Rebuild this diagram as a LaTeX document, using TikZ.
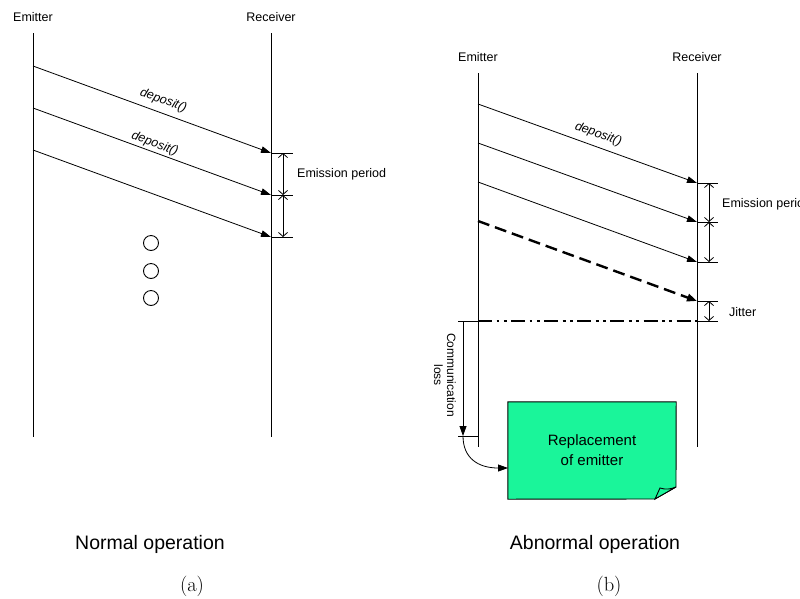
\documentclass[tikz,border=0pt]{standalone}
\usepackage{fontspec}
\newfontfamily\arialf{Liberation Sans}
\usetikzlibrary{arrows.meta}
\definecolor{boxgreen}{RGB}{26,245,154}
\begin{document}
\begin{tikzpicture}[x=1pt,y=-1pt,
  lbl/.style={font=\arialf\fontsize{12.5}{14}\selectfont, inner sep=0pt},
  deplbl/.style={lbl,font=\arialf\itshape\fontsize{12.5}{14}\selectfont},
  captext/.style={font=\arialf\fontsize{19.5}{24}\selectfont, inner sep=0pt},
  subtext/.style={font=\fontsize{20.5}{24}\selectfont, inner sep=0pt},
  life/.style={line width=0.9pt},
  msg/.style={line width=0.8pt,-{Triangle[length=10pt,width=6.5pt]}},
  dimarr/.style={line width=0.8pt,{Straight Barb[length=4pt,width=9pt]}-{Straight Barb[length=4pt,width=9pt]}},
  tickl/.style={line width=0.8pt},
  dots/.style={circle,draw,line width=0.9pt,minimum size=15pt,inner sep=0pt}]
\useasboundingbox (0,0) rectangle (800,598);

% ---------------- (a) ----------------
\node[lbl] (em1) at (33,17) {Emitter};
\node[lbl] (rc1) at (271,17) {Receiver};
\coordinate (e1t) at (33,33);  \coordinate (e1b) at (33,437);
\coordinate (r1t) at (271,33); \coordinate (r1b) at (271,437);
\draw[life] (e1t) -- (e1b);
\draw[life] (r1t) -- (r1b);

\coordinate (a1s) at (33,66);  \coordinate (a1e) at (271,153);
\coordinate (a2s) at (33,108); \coordinate (a2e) at (271,195);
\coordinate (a3s) at (33,150); \coordinate (a3e) at (271,237);
\draw[msg] (a1s) -- node[deplbl,sloped,above=6pt,pos=0.53]{deposit()} (a1e);
\draw[msg] (a2s) -- node[deplbl,sloped,above=2pt,pos=0.5]{deposit()} (a2e);
\draw[msg] (a3s) -- (a3e);

\coordinate (k1a) at (293,153); \coordinate (k2a) at (293,195); \coordinate (k3a) at (293,237);
\draw[tickl] (a1e) -- (k1a);
\draw[tickl] (a2e) -- (k2a);
\draw[tickl] (a3e) -- (k3a);
\coordinate (m1a) at (283,153); \coordinate (m2a) at (283,195); \coordinate (m3a) at (283,237);
\draw[dimarr] (m1a) -- (m2a);
\draw[dimarr] (m2a) -- (m3a);
\node[lbl,anchor=west] (ep1) at (297,174) {Emission period};

\node[dots] (c1) at (151,243) {};
\node[dots] (c2) at (151,271) {};
\node[dots] (c3) at (151,298) {};

\node[captext] (cap1) at (150,544) {Normal operation};
\node[subtext] (sa) at (192,586) {(a)};

% ---------------- (b) ----------------
\node[lbl] (em2) at (478,57) {Emitter};
\node[lbl] (rc2) at (697,57) {Receiver};
\coordinate (e2t) at (478,73);  \coordinate (e2b) at (478,447);
\coordinate (r2t) at (697,73);  \coordinate (r2b) at (697,447);
\draw[life] (e2t) -- (e2b);
\draw[life] (r2t) -- (r2b);

\coordinate (b1s) at (478,104); \coordinate (b1e) at (697,183);
\coordinate (b2s) at (478,143); \coordinate (b2e) at (697,222);
\coordinate (b3s) at (478,182); \coordinate (b3e) at (697,262);
\coordinate (b4s) at (478,221); \coordinate (b4e) at (697,301);
\draw[msg] (b1s) -- node[deplbl,sloped,above=6pt,pos=0.53]{deposit()} (b1e);
\draw[msg] (b2s) -- (b2e);
\draw[msg] (b3s) -- (b3e);
\draw[line width=2.4pt,dash pattern=on 12pt off 6pt,-{Triangle[length=10pt,width=7.5pt]}] (b4s) -- (b4e);

\coordinate (k1b) at (718,183); \coordinate (k2b) at (718,222); \coordinate (k3b) at (718,262);
\coordinate (k4b) at (718,301); \coordinate (k5b) at (718,321);
\coordinate (r2j) at (697,321);
\draw[tickl] (b1e) -- (k1b);
\draw[tickl] (b2e) -- (k2b);
\draw[tickl] (b3e) -- (k3b);
\draw[tickl] (b4e) -- (k4b);
\draw[tickl] (r2j) -- (k5b);
\coordinate (m1b) at (709,183); \coordinate (m2b) at (709,222); \coordinate (m3b) at (709,262);
\coordinate (m4b) at (709,301); \coordinate (m5b) at (709,321);
\draw[dimarr] (m1b) -- (m2b);
\draw[dimarr] (m2b) -- (m3b);
\draw[dimarr] (m4b) -- (m5b);
\node[lbl,anchor=west] (ep2) at (722,204) {Emission period};
\node[lbl,anchor=west] (jit) at (729,312) {Jitter};

% loss line
\coordinate (e2j) at (478,321);
\draw[line width=2.8pt,dash pattern=on 14pt off 4.5pt on 2.8pt off 4.5pt on 2.8pt off 4.5pt] (e2j) -- (r2j);

% communication loss
\coordinate (cl1) at (458,321); \coordinate (cl2) at (458,436); \coordinate (e2k) at (478,436);
\coordinate (cv1) at (463,321); \coordinate (cv2) at (463,436);
\draw[tickl] (cl1) -- (e2j);
\draw[tickl] (cl2) -- (e2k);
\draw[line width=0.8pt,-{Triangle[length=10pt,width=7pt]}] (cv1) -- (cv2);
\node[lbl,rotate=-90,align=center,font=\arialf\fontsize{12}{13}\selectfont] (cl) at (445,375) {Communication\\loss};

% replacement box
\node[inner sep=0pt,minimum width=168pt,minimum height=97pt] (rbox) at (592,450.5) {};
\draw[fill=boxgreen,line width=0.9pt] (rbox.north west) -- (rbox.north east) -- (676,487) -- (655,499) -- (rbox.south west) -- cycle;
\draw[fill=boxgreen,line width=0.9pt] (655,499) -- (660,488) .. controls (666,490) and (671,489) .. (676,487) -- cycle;
\node[align=center,font=\arialf\fontsize{15}{20}\selectfont] (rtxt) at (rbox.center) {Replacement\\of emitter};
\coordinate (ae) at (508,468);
\draw[line width=0.8pt,-{Triangle[length=10pt,width=7pt]}] (cv2) .. controls (463,458) and (478,468) .. (ae);

\node[captext] (cap2) at (595,544) {Abnormal operation};
\node[subtext] (sb) at (609,586) {(b)};
\end{tikzpicture}
\end{document}
